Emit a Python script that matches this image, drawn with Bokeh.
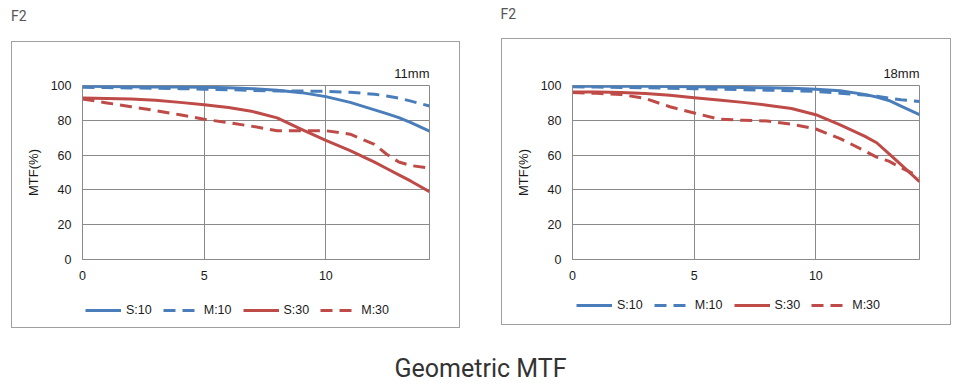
from bokeh.plotting import figure
from bokeh.models import (Range1d, FixedTicker, Legend, LegendItem, Label,
                          ColumnDataSource)
from bokeh.layouts import column, row
from bokeh.embed import file_html
from bokeh.resources import INLINE

# ---------------- data ----------------
field_x = [0, 1, 2, 3, 4, 5, 6, 7, 8, 9, 10, 11, 12, 12.5, 13, 13.5, 14.26]

# 11mm
s10_11 = [99.5, 99.4, 99.3, 99.2, 99.1, 99.0, 98.7, 98.2, 97.3, 95.9, 93.6, 90.3, 86.0, 83.8, 81.5, 78.6, 73.7]
m10_11 = [99.0, 98.8, 98.6, 98.4, 98.2, 97.9, 97.6, 97.2, 96.9, 96.8, 96.7, 96.1, 95.0, 94.0, 92.8, 91.0, 88.2]
s30_11 = [92.8, 92.6, 92.2, 91.5, 90.3, 88.9, 87.3, 85.0, 81.4, 74.8, 68.5, 62.6, 56.0, 52.3, 48.6, 45.0, 39.0]
m30_11 = [92.3, 90.0, 87.8, 85.6, 83.2, 80.6, 78.6, 76.5, 74.0, 74.0, 74.0, 72.0, 66.2, 60.5, 56.0, 54.0, 52.5]

# 18mm
s10_18 = [99.6, 99.6, 99.6, 99.5, 99.4, 99.3, 99.1, 98.9, 98.7, 98.4, 97.9, 97.0, 94.9, 93.4, 91.4, 88.2, 83.2]
m10_18 = [99.3, 99.1, 98.9, 98.7, 98.4, 98.2, 97.9, 97.6, 97.3, 97.0, 96.6, 95.6, 94.6, 93.8, 92.7, 91.8, 90.8]
s30_18 = [96.3, 96.2, 96.0, 95.4, 94.4, 92.9, 91.6, 90.3, 88.7, 86.8, 83.2, 77.4, 70.9, 67.1, 60.8, 54.5, 44.8]
m30_18 = [96.0, 95.5, 94.8, 92.5, 87.8, 84.2, 80.7, 80.0, 79.6, 77.8, 75.0, 69.5, 62.5, 58.8, 56.5, 52.8, 47.5]

series_names = ["S:10", "M:10", "S:30", "M:30"]
x_ticks = [0, 5, 10]
y_ticks = [0, 20, 40, 60, 80, 100]
aperture = "F2"
focal_lengths = ["11mm", "18mm"]
chart_title = "Geometric MTF"

BLUE = "#4a7ebb"
RED = "#be4b48"
GRID = "#8a8a8a"
BOX = "#a0a0a0"
TXT = "#1a1a1a"
FONT = "Liberation Sans"
STYLES = [(BLUE, "solid"), (BLUE, "12 7"), (RED, "solid"), (RED, "12 7")]


def seg(l, t, w, h):
    return f"linear-gradient({BOX},{BOX}) {l}px {t}px / {w}px {h}px no-repeat"


def strip(width, height, css=None):
    kw = {"styles": {"background": css}} if css else {}
    p = figure(width=width, height=height, output_backend="svg",
               toolbar_location=None, x_axis_type=None, y_axis_type=None,
               min_border=0, x_range=Range1d(0, 1), y_range=Range1d(0, 1), **kw)
    p.outline_line_color = None
    p.grid.visible = False
    p.background_fill_alpha = 0
    p.border_fill_alpha = 0
    return p


def make_chart(focal, data, width, height, mb, css):
    p = figure(width=width, height=height, output_backend="svg",
               toolbar_location=None, title=focal,
               x_range=Range1d(0, 14.26), y_range=Range1d(0, 100),
               min_border_left=mb[0], min_border_top=mb[1],
               min_border_right=mb[2], min_border_bottom=mb[3],
               styles={"background": css})
    p.border_fill_alpha = 0
    p.background_fill_color = "white"
    p.title.align = "right"
    p.title.text_font = FONT
    p.title.text_font_size = "13px"
    p.title.text_font_style = "normal"
    p.title.text_color = TXT
    p.title.standoff = 10
    p.outline_line_color = GRID
    p.outline_line_width = 1

    for ax in (p.xaxis[0], p.yaxis[0]):
        ax.axis_line_color = GRID
        ax.major_tick_out = 0
        ax.major_tick_in = 0
        ax.minor_tick_out = 0
        ax.minor_tick_in = 0
        ax.major_label_text_font = FONT
        ax.major_label_text_font_size = "12.5px"
        ax.major_label_text_color = TXT
        ax.major_label_standoff = 11
    p.xaxis.ticker = FixedTicker(ticks=x_ticks)
    p.yaxis.ticker = FixedTicker(ticks=y_ticks)
    p.yaxis.axis_label = "MTF(%)"
    p.yaxis.axis_label_text_font = FONT
    p.yaxis.axis_label_text_font_size = "13px"
    p.yaxis.axis_label_text_font_style = "normal"
    p.yaxis.axis_label_text_color = TXT
    p.yaxis.axis_label_standoff = 7

    p.xgrid.ticker = FixedTicker(ticks=x_ticks)
    p.ygrid.ticker = FixedTicker(ticks=y_ticks)
    p.grid.grid_line_color = GRID
    p.grid.grid_line_width = 1

    for ys, (col, dash) in zip(data, STYLES):
        src = ColumnDataSource(dict(x=field_x, y=ys))
        p.line("x", "y", source=src, line_color=col, line_width=3,
               line_dash=dash, line_join="round")
    return p


# charts: page rows 36..292
p1 = make_chart(focal_lengths[0], [s10_11, m10_11, s30_11, m30_11],
                width=490, height=256, mb=(82, 49, 61, 30),
                css=", ".join([seg(11, 5, 449, 1), seg(11, 5, 1, 251), seg(459, 5, 1, 251)]))
p2 = make_chart(focal_lengths[1], [s10_18, m10_18, s30_18, m30_18],
                width=487, height=256, mb=(82, 46, 58, 33),
                css=", ".join([seg(11, 2, 450, 1), seg(11, 2, 1, 254), seg(460, 2, 1, 254)]))

head = strip(977, 36)
for hx, hy in [(10.5, 7), (500, 5)]:
    head.add_layout(Label(x=hx, y=hy, x_units="canvas", y_units="canvas",
                          text=aperture, text_font="Roboto", text_font_size="14px",
                          text_color="#555555", text_align="left", text_baseline="top"))

# legend strip: page rows 292..332, with the lower part of both boxes
leg_css = ", ".join([seg(11, 0, 1, 36), seg(459, 0, 1, 36), seg(11, 35, 449, 1),
                     seg(501, 0, 1, 33), seg(950, 0, 1, 33), seg(501, 32, 450, 1)])
legs = strip(977, 40, css=leg_css)
for loc, data in [((85, 15), [s10_11, m10_11, s30_11, m30_11]),
                  ((576, 20), [s10_18, m10_18, s30_18, m30_18])]:
    items = []
    for name, ys, (col, dash) in zip(series_names, data, STYLES):
        # same series, drawn far outside this strip's 0..1 range (only the key shows)
        src = ColumnDataSource(dict(x=field_x, y=ys))
        r = legs.line("x", "y", source=src, line_color=col, line_width=3,
                      line_dash=dash)
        items.append(LegendItem(label=name, renderers=[r]))
    legs.add_layout(Legend(items=items, location=loc, orientation="horizontal",
                           glyph_width=36, glyph_height=14, label_height=14,
                           label_standoff=5, spacing=11, padding=0, margin=0,
                           border_line_color=None, background_fill_alpha=0,
                           label_text_font=FONT, label_text_font_size="12.5px",
                           label_text_color=TXT))

foot = strip(977, 57)
foot.add_layout(Label(x=480, y=36, x_units="canvas", y_units="canvas",
                      text=chart_title, text_font="Roboto", text_font_size="25px",
                      text_color="#333333", text_align="center", text_baseline="middle"))

layout = column(head, row(p1, p2, spacing=0), legs, foot, spacing=0)
open("out.html", "w").write(file_html(layout, INLINE))
